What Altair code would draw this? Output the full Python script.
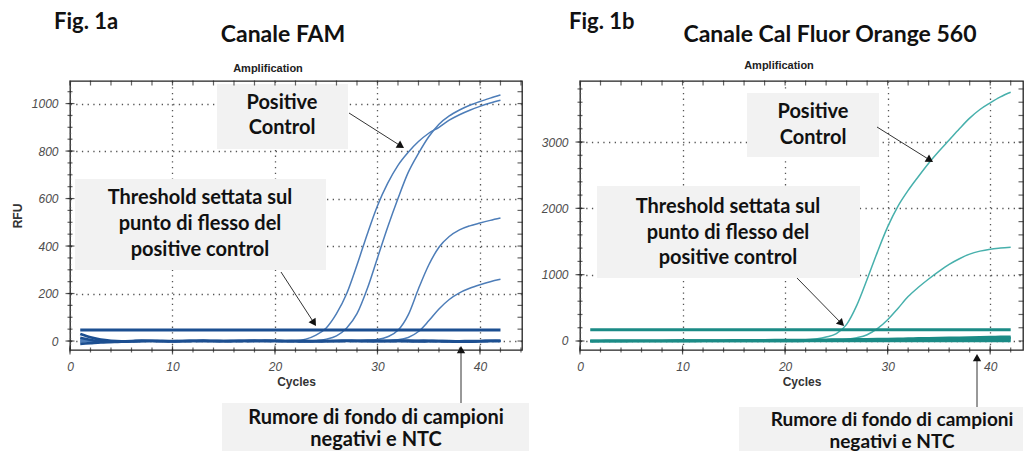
import math
import altair as alt
import pandas as pd

# ---------------- data ----------------
cycles = list(range(1, 43))
x_major = [0, 10, 20, 30, 40]
x_minor = list(range(0, 45, 2))

# Fig. 1a - Canale FAM
fam_pc_1 = [3, 1, 0, -1, 0, 1, 0, 0, -1, 0, 1, 0, 0, -1, 0, 1, 1, 0, 0, 1, 1,
            2, 8, 25, 55, 115, 200, 320, 450, 570, 665, 740, 795, 840, 875, 900,
            930, 953, 972, 988, 1002, 1014]
fam_pc_2 = [-2, -1, 0, 0, 1, 0, -1, 0, 0, 1, 0, 0, -1, 0, 1, 0, 0, -1, 0, 1, 0, 1, 1,
            2, 8, 22, 55, 115, 220, 350, 480, 600, 710, 790, 860, 913, 948, 973,
            993, 1009, 1023, 1036]
fam_s3 = [5, 2, 0, -1, 0, 0, 1, 0, -1, 0, 0, 1, 0, 0, -1, 0, 1, 0, 0, 1, 0, -1, 0, 0,
          1, 1, 0, 1, 2, 6, 18, 45, 110, 220, 320, 395, 440, 468, 485, 497, 508, 518]
fam_s4 = [-4, -2, -1, 0, 0, 1, 0, -1, 0, 0, 1, 0, 0, -1, 0, 0, 1, 0, -1, 0, 0, 1, 0,
          0, -1, 0, 1, 0, 0, 1, 2, 5, 15, 40, 85, 135, 175, 203, 222, 237, 250, 260]
fam_neg_1 = [30, 16, 6, 1, -1, 0, 2, 1, -1, -2, 0, 1, 2, 1, 0, -1, 0, 1, 2, 1, 0, -1,
             -2, -1, 0, 1, 1, 0, -1, 0, 1, 0, -1, -2, -1, 0, 0, -2, -3, -1, 0, 0]
fam_neg_2 = [14, 5, -2, -4, -3, -2, -1, 0, 1, 0, -1, 0, 1, 0, -1, 0, 1, 2, 1, 0, -1,
             0, 1, 0, -1, -1, 0, 1, 2, 1, 0, 1, 2, 1, 0, -1, -2, -3, -2, -1, 0, 1]
fam_ntc = [-12, -9, -6, -4, -2, -1, 0, 0, -1, -1, 0, 0, -1, -1, 0, 1, 0, -1, -1, 0, 0,
           0, -1, -1, 0, 0, 1, 0, 0, -1, -1, 0, 0, 0, 1, 0, -1, -1, 0, 0, 1, 0]
fam_threshold = 46
fam_y_major = [0, 200, 400, 600, 800, 1000]
fam_y_minor = list(range(0, 1100, 50))

# Fig. 1b - Canale Cal Fluor Orange 560
cfo_pc = [0, 1, 0, -1, 0, 0, 1, 0, 0, -1, 0, 1, 0, 0, 1, 0, 0, 1, 1, 1,
          2, 10, 30, 60, 110, 250, 540, 930, 1340, 1720, 2030, 2270, 2480, 2680,
          2860, 3030, 3200, 3360, 3490, 3590, 3680, 3750]
cfo_s2 = [0, 0, 1, 0, -1, 0, 0, 1, 0, 0, -1, 0, 0, 1, 0, 0, 1, 0, 1, 1, 2, 2, 3,
          5, 12, 25, 50, 95, 185, 320, 490, 670, 810, 935, 1050, 1155, 1240, 1310,
          1355, 1385, 1402, 1415]
cfo_neg_1 = [0, 1, 0, -1, 0, 1, 0, 0, -1, 0, 1, 0, 0, -1, 0, 1, 0, 0, -1, 0, 0, 1, 0,
             0, -1, 0, 0, 1, 0, 0, -1, 0, 0, 1, 0, 0, -1, 0, 0, 1, 0, 0]
cfo_neg_2 = [0, 0, 1, 0, 0, -1, 0, 0, 1, 0, 0, 0, -1, 0, 0, 1, 0, 0, 1, 2, 2, 3, 3, 4,
             5, 6, 7, 8, 9, 10, 12, 13, 15, 16, 18, 19, 21, 22, 24, 25, 27, 28]
cfo_neg_3 = [-2, -1, 0, 0, 1, 0, 0, 1, 1, 2, 2, 3, 3, 4, 4, 5, 6, 6, 7, 8, 9, 10, 11,
             12, 13, 15, 16, 18, 20, 22, 24, 26, 28, 30, 32, 34, 36, 38, 40, 42, 44, 46]
cfo_ntc = [1, 1, 2, 2, 3, 3, 4, 4, 5, 5, 6, 7, 7, 8, 9, 10, 11, 12, 13, 14, 15, 16, 18,
           19, 21, 23, 25, 27, 29, 31, 34, 36, 39, 41, 44, 47, 50, 53, 56, 59, 62, 65]
cfo_threshold = 170
cfo_y_major = [0, 1000, 2000, 3000]
cfo_y_minor = list(range(0, 3901, 200))

threshold_span = [1, 42]

# ---------------- helpers ----------------
ONE = pd.DataFrame({"k": [0]})
ANN_FONT = "Lato"


def long_df(series):
    rows = []
    for name, vals in series.items():
        for c, v in zip(cycles, vals):
            rows.append({"cycle": c, "rfu": v, "sample": name})
    return pd.DataFrame(rows)


def text(lines, x, y, size=20, step=25, font=ANN_FONT, weight="bold", color="#111",
         align="center"):
    out = []
    for i, line in enumerate(lines):
        out.append(alt.Chart(ONE).mark_text(
            text=line, font=font, fontSize=size, fontWeight=weight, color=color,
            align=align, baseline="alphabetic"
        ).encode(x=alt.value(x), y=alt.value(y + i * step)))
    return out


def box(x1, y1, x2, y2):
    return alt.Chart(ONE).mark_rect(color="#f2f2f2").encode(
        x=alt.value(x1), x2=alt.value(x2), y=alt.value(y1), y2=alt.value(y2))


def arrow(x1, y1, x2, y2, size=70):
    dx, dy = x2 - x1, y2 - y1
    L = math.hypot(dx, dy)
    ux, uy = dx / L, dy / L
    ang = math.degrees(math.atan2(dx, -dy)) % 360
    h = math.sqrt(3) * math.sqrt(size) / 4
    cx, cy = x2 - ux * h, y2 - uy * h
    line = alt.Chart(ONE).mark_rule(color="#333", strokeWidth=1).encode(
        x=alt.value(x1), y=alt.value(y1), x2=alt.value(cx), y2=alt.value(cy))
    head = alt.Chart(ONE).mark_point(shape="triangle-up", filled=True, size=size,
                                     angle=ang, color="#111", opacity=1).encode(
        x=alt.value(cx), y=alt.value(cy))
    return [line, head]


def panel(amp, noise, thr, amp_color, base_color, x_max, y_dom, y_major, y_minor,
          width, height, y_title, notes):
    xs = alt.Scale(domain=[0, x_max], nice=False, zero=False)
    ys = alt.Scale(domain=y_dom, nice=False, zero=False)
    xaxis = alt.Axis(values=x_major, title="Cycles", labelPadding=11, titlePadding=4,
                     labelFlush=False, format="d")
    if y_title:
        yaxis = alt.Axis(values=y_major, title=y_title, labelPadding=12, titlePadding=7,
                         labelFlush=False, format="d")
    else:
        yaxis = alt.Axis(values=y_major, title=None, labelPadding=12,
                         labelFlush=False, format="d")

    def X(f):
        return alt.X(f, type="quantitative", scale=xs, axis=xaxis)

    def Y(f):
        return alt.Y(f, type="quantitative", scale=ys, axis=yaxis)

    layers = []
    layers.append(alt.Chart(long_df(amp)).mark_line(
        color=amp_color, strokeWidth=1.5, interpolate="monotone").encode(
        x=X("cycle"), y=Y("rfu"), detail="sample:N"))
    layers.append(alt.Chart(long_df(noise)).mark_line(
        color=base_color, strokeWidth=2.6, interpolate="monotone").encode(
        x=X("cycle"), y=Y("rfu"), detail="sample:N"))
    thr_df = pd.DataFrame({"c0": [threshold_span[0]], "c1": [threshold_span[1]], "thr": [thr]})
    layers.append(alt.Chart(thr_df).mark_rule(color=base_color, strokeWidth=3).encode(
        x=X("c0"), x2="c1", y=Y("thr")))

    # annotations
    for kind, spec in notes:
        if kind == "box":
            layers.append(box(*spec))
        elif kind == "text":
            layers.extend(text(**spec))
        elif kind == "arrow":
            layers.extend(arrow(*spec))

    # frame ticks
    xmin_df = pd.DataFrame({"v": [v for v in x_minor if v <= x_max]})
    xmaj_df = pd.DataFrame({"v": [v for v in x_major if v <= x_max]})
    ymin_df = pd.DataFrame({"v": [v for v in y_minor if y_dom[0] <= v <= y_dom[1]]})
    ymaj_df = pd.DataFrame({"v": [v for v in y_major if y_dom[0] <= v <= y_dom[1]]})
    tc = "#222"
    layers.append(alt.Chart(xmin_df).mark_tick(orient="vertical", size=5, thickness=1.2, color=tc)
                  .encode(x=X("v"), y=alt.value(height)))
    layers.append(alt.Chart(xmaj_df).mark_tick(orient="vertical", size=9, thickness=1.2, color=tc)
                  .encode(x=X("v"), y=alt.value(height)))
    layers.append(alt.Chart(xmin_df).mark_tick(orient="vertical", size=5, thickness=1.2, color=tc)
                  .encode(x=X("v"), y=alt.value(2)))
    layers.append(alt.Chart(ymin_df).mark_tick(orient="horizontal", size=5, thickness=1.2, color=tc)
                  .encode(y=Y("v"), x=alt.value(0)))
    layers.append(alt.Chart(ymaj_df).mark_tick(orient="horizontal", size=9, thickness=1.2, color=tc)
                  .encode(y=Y("v"), x=alt.value(0)))
    layers.append(alt.Chart(ymin_df).mark_tick(orient="horizontal", size=5, thickness=1.2, color=tc)
                  .encode(y=Y("v"), x=alt.value(width - 2)))

    return alt.layer(*layers).properties(width=width, height=height)


W1, W2, H = 452, 443, 269

left_notes = [
    ("text", dict(lines=["Fig. 1a"], x=-16, y=-52, size=22, align="left")),
    ("text", dict(lines=["Canale FAM"], x=213, y=-39, size=23)),
    ("text", dict(lines=["Amplification"], x=198, y=-9, size=11, font="Liberation Sans",
                  color="#222")),
    ("box", (147, 3, 278, 68)),
    ("text", dict(lines=["Positive", "Control"], x=212, y=28, step=25)),
    ("box", (5, 98, 256, 189)),
    ("text", dict(lines=["Threshold settata sul", "punto di flesso del", "positive control"],
                  x=130, y=123, step=26)),
    ("box", (152, 322, 459, 370)),
    ("text", dict(lines=["Rumore di fondo di campioni", "negativi e NTC"], x=306, y=343, step=22)),
    ("arrow", (279, 32, 334, 67)),
    ("arrow", (211, 191, 246, 245)),
    ("arrow", (391, 322, 391, 265)),
]

right_notes = [
    ("text", dict(lines=["Fig. 1b"], x=-11, y=-52, size=22, align="left")),
    ("text", dict(lines=["Canale Cal Fluor Orange 560"], x=250, y=-39, size=23)),
    ("text", dict(lines=["Amplification"], x=199, y=-12, size=11, font="Liberation Sans",
                  color="#222")),
    ("box", (167, 12, 299, 76)),
    ("text", dict(lines=["Positive", "Control"], x=233, y=37, step=26)),
    ("box", (17, 105, 280, 197)),
    ("text", dict(lines=["Threshold settata sul", "punto di flesso del", "positive control"],
                  x=148, y=132, step=25.5)),
    ("box", (159, 326, 443, 370)),
    ("text", dict(lines=["Rumore di fondo di campioni", "negativi e NTC"], x=312, y=345,
                  step=22, size=19)),
    ("arrow", (297, 46, 353, 81)),
    ("arrow", (217, 197, 264, 245)),
    ("arrow", (397, 326, 397, 273)),
]

left = panel(
    {"PC 1": fam_pc_1, "PC 2": fam_pc_2, "S3": fam_s3, "S4": fam_s4},
    {"N1": fam_neg_1, "N2": fam_neg_2, "NTC": fam_ntc},
    fam_threshold, "#4d7db8", "#1c4f91", 44.1, [-37.8, 1095], fam_y_major, fam_y_minor,
    W1, H, "RFU", left_notes)

right = panel(
    {"PC": cfo_pc, "S2": cfo_s2},
    {"N1": cfo_neg_1, "N2": cfo_neg_2, "N3": cfo_neg_3, "NTC": cfo_ntc},
    cfo_threshold, "#47b0ac", "#1b8b86", 43.2, [-135.7, 3920], cfo_y_major, cfo_y_minor,
    W2, H, None, right_notes)

chart = alt.hconcat(left, right, spacing=58, bounds="flush").properties(
    padding={"left": 2, "top": 2, "right": 0, "bottom": 0}
).configure(background="white").configure_view(
    stroke="#222", strokeWidth=1.3
).configure_axis(
    labelFont="Liberation Sans", labelFontStyle="italic", labelFontSize=12,
    labelColor="#4d4d4d", titleFont="Liberation Sans", titleFontSize=12,
    titleFontWeight="bold", titleColor="#333", grid=True, gridColor="#555",
    gridDash=[1.3, 4.4], gridWidth=1.3, ticks=False, domain=False, labelOverlap=False
)

chart.save("out.html", embed_options={"renderer": "svg", "actions": False})
